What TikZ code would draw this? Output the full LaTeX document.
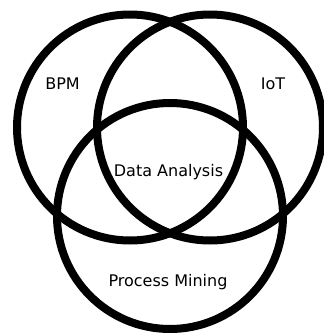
\documentclass[tikz,border=0pt]{standalone}
\usepackage{fontspec}
\setmainfont{DejaVu Sans}
\begin{document}
\begin{tikzpicture}[x=1pt,y=-1pt,
  venn/.style={draw=black,line width=8pt},
  lbl/.style={inner sep=0pt,anchor=base,font=\fontsize{16}{19}\selectfont}]
\useasboundingbox (0,0) rectangle (324,333);
\clip (0,0) rectangle (324,333);
\coordinate (cb) at (130,127.5);
\coordinate (ci) at (210,127.5);
\coordinate (cp) at (170,216);
\draw[venn] (cb) circle[radius=113];
\draw[venn] (ci) circle[radius=113];
\draw[venn] (cp) circle[radius=113];
\node[lbl] (bpm) at (62.5,89) {BPM};
\node[lbl] (iot) at (273,89) {IoT};
\node[lbl] (da) at (168.5,176) {Data Analysis};
\node[lbl] (pm) at (168,286) {Process Mining};
\end{tikzpicture}
\end{document}
